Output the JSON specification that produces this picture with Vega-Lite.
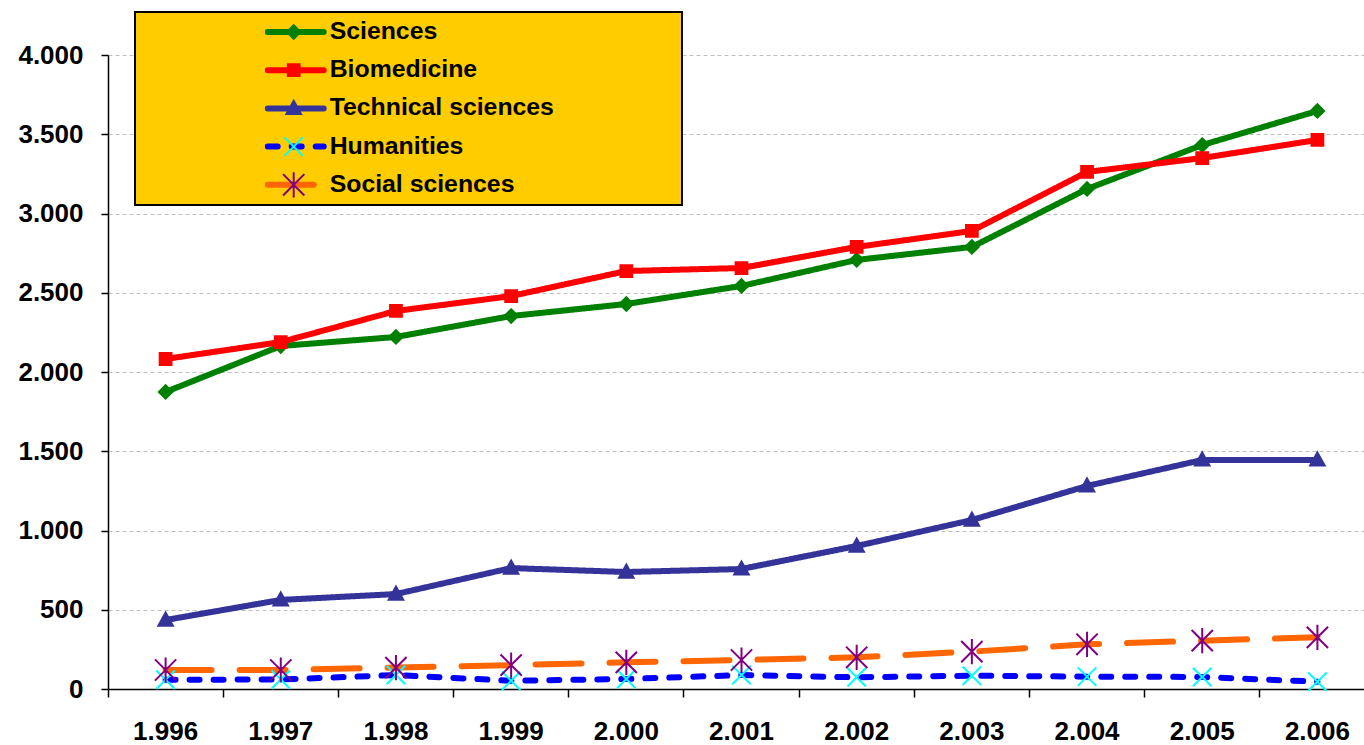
{
  "$schema": "https://vega.github.io/schema/vega-lite/v6.json",
  "width": 1256,
  "height": 634,
  "autosize": {"type": "none"},
  "padding": {"left": 108, "right": 0, "top": 55, "bottom": 56},
  "background": "white",
  "config": {"view": {"stroke": null}, "font": "Liberation Sans"},
  "data": {"values": [
    {"year": 1996, "series": "Sciences", "value": 1874},
    {"year": 1997, "series": "Sciences", "value": 2164},
    {"year": 1998, "series": "Sciences", "value": 2221},
    {"year": 1999, "series": "Sciences", "value": 2353},
    {"year": 2000, "series": "Sciences", "value": 2429},
    {"year": 2001, "series": "Sciences", "value": 2543},
    {"year": 2002, "series": "Sciences", "value": 2707},
    {"year": 2003, "series": "Sciences", "value": 2789},
    {"year": 2004, "series": "Sciences", "value": 3155},
    {"year": 2005, "series": "Sciences", "value": 3432},
    {"year": 2006, "series": "Sciences", "value": 3647},
    {"year": 1996, "series": "Biomedicine", "value": 2082},
    {"year": 1997, "series": "Biomedicine", "value": 2189},
    {"year": 1998, "series": "Biomedicine", "value": 2385},
    {"year": 1999, "series": "Biomedicine", "value": 2479},
    {"year": 2000, "series": "Biomedicine", "value": 2637},
    {"year": 2001, "series": "Biomedicine", "value": 2656},
    {"year": 2002, "series": "Biomedicine", "value": 2789},
    {"year": 2003, "series": "Biomedicine", "value": 2890},
    {"year": 2004, "series": "Biomedicine", "value": 3262},
    {"year": 2005, "series": "Biomedicine", "value": 3350},
    {"year": 2006, "series": "Biomedicine", "value": 3464},
    {"year": 1996, "series": "Technical sciences", "value": 435},
    {"year": 1997, "series": "Technical sciences", "value": 562},
    {"year": 1998, "series": "Technical sciences", "value": 599},
    {"year": 1999, "series": "Technical sciences", "value": 763},
    {"year": 2000, "series": "Technical sciences", "value": 738},
    {"year": 2001, "series": "Technical sciences", "value": 757},
    {"year": 2002, "series": "Technical sciences", "value": 902},
    {"year": 2003, "series": "Technical sciences", "value": 1066},
    {"year": 2004, "series": "Technical sciences", "value": 1281},
    {"year": 2005, "series": "Technical sciences", "value": 1445},
    {"year": 2006, "series": "Technical sciences", "value": 1445},
    {"year": 1996, "series": "Humanities", "value": 58},
    {"year": 1997, "series": "Humanities", "value": 60},
    {"year": 1998, "series": "Humanities", "value": 88},
    {"year": 1999, "series": "Humanities", "value": 52},
    {"year": 2000, "series": "Humanities", "value": 63},
    {"year": 2001, "series": "Humanities", "value": 88},
    {"year": 2002, "series": "Humanities", "value": 74},
    {"year": 2003, "series": "Humanities", "value": 84},
    {"year": 2004, "series": "Humanities", "value": 78},
    {"year": 2005, "series": "Humanities", "value": 76},
    {"year": 2006, "series": "Humanities", "value": 46},
    {"year": 1996, "series": "Social sciences", "value": 120},
    {"year": 1997, "series": "Social sciences", "value": 120},
    {"year": 1998, "series": "Social sciences", "value": 135},
    {"year": 1999, "series": "Social sciences", "value": 151},
    {"year": 2000, "series": "Social sciences", "value": 168},
    {"year": 2001, "series": "Social sciences", "value": 183},
    {"year": 2002, "series": "Social sciences", "value": 200},
    {"year": 2003, "series": "Social sciences", "value": 236},
    {"year": 2004, "series": "Social sciences", "value": 282},
    {"year": 2005, "series": "Social sciences", "value": 305},
    {"year": 2006, "series": "Social sciences", "value": 326}
  ]},
  "encoding": {
    "x": {
      "field": "year", "type": "ordinal",
      "scale": {"type": "band", "range": [0, 1267], "paddingInner": 0, "paddingOuter": 0},
      "axis": {
        "title": null, "bandPosition": 0, "labelAngle": 0,
        "labelExpr": "replace(format(datum.value, ','), ',', '.')",
        "labelFont": "Liberation Sans", "labelFontSize": 26, "labelFontWeight": "bold", "labelColor": "#000000",
        "labelPadding": 21.5, "labelOverlap": false,
        "tickSize": 8, "tickColor": "#000000", "tickWidth": 1.5,
        "domainColor": "#000000", "domainWidth": 1.5, "grid": false
      }
    },
    "y": {
      "field": "value", "type": "quantitative",
      "scale": {"domain": [0, 4000], "nice": false},
      "axis": {
        "title": null, "values": [0, 500, 1000, 1500, 2000, 2500, 3000, 3500, 4000],
        "labelExpr": "replace(format(datum.value, ','), ',', '.')",
        "labelFont": "Liberation Sans", "labelFontSize": 26, "labelFontWeight": "bold", "labelColor": "#000000",
        "labelPadding": 18,
        "tickSize": 7, "tickColor": "#000000", "tickWidth": 1.5,
        "domainColor": "#000000", "domainWidth": 1.5,
        "grid": true, "gridColor": "#BFBFBF", "gridDash": [4, 3], "gridWidth": 1
      }
    }
  },
  "layer": [
    {
      "mark": {"type": "line", "strokeWidth": 6, "strokeCap": "round", "strokeJoin": "round"},
      "encoding": {
        "color": {
          "field": "series", "type": "nominal",
          "scale": {
            "domain": ["Sciences", "Biomedicine", "Technical sciences", "Humanities", "Social sciences"],
            "range": ["#008000", "#FF0000", "#333399", "#0000FF", "#FF6600"]
          },
          "legend": {
            "orient": "none", "legendX": 27, "legendY": -43,
            "title": " ", "titleOrient": "left", "titleFontSize": 1, "titlePadding": 124.7,
            "padding": 5, "fillColor": "#FFCC00", "strokeColor": "#000000",
            "symbolType": "stroke", "symbolSize": 3136, "symbolStrokeWidth": 6,
            "labelFont": "Liberation Sans", "labelFontSize": 24.8, "labelFontWeight": "bold", "labelOpacity": 0,
            "labelOffset": 126, "labelLimit": 1000, "clipHeight": 30, "rowPadding": 8.2,
            "encode": {
              "legend": {"update": {"strokeWidth": {"value": 2}}},
              "symbols": {"update": {"strokeCap": {"value": "round"}}}
            }
          }
        },
        "strokeDash": {
          "field": "series", "type": "nominal",
          "scale": {
            "domain": ["Sciences", "Biomedicine", "Technical sciences", "Humanities", "Social sciences"],
            "range": [[1, 0], [1, 0], [1, 0], [10, 14], [46, 28]]
          },
          "legend": {
            "orient": "none", "legendX": 27, "legendY": -43,
            "title": " ", "titleOrient": "left", "titleFontSize": 1, "titlePadding": 124.7,
            "padding": 5, "fillColor": "#FFCC00", "strokeColor": "#000000",
            "symbolType": "stroke", "symbolSize": 3136, "symbolStrokeWidth": 6,
            "labelFont": "Liberation Sans", "labelFontSize": 24.8, "labelFontWeight": "bold", "labelOpacity": 0,
            "labelOffset": 126, "labelLimit": 1000, "clipHeight": 30, "rowPadding": 8.2
          }
        }
      }
    },
    {
      "mark": {"type": "point", "size": 3136, "opacity": 1, "strokeWidth": 2},
      "encoding": {
        "shape": {
          "field": "series", "type": "nominal",
          "scale": {
            "domain": ["Sciences", "Biomedicine", "Technical sciences", "Humanities", "Social sciences"],
            "range": [
              "M0,-0.24L0.24,0L0,0.24L-0.24,0Z",
              "M-0.21,-0.21L0.21,-0.21L0.21,0.21L-0.21,0.21Z",
              "M0,-0.27L0.26,0.2L-0.26,0.2Z",
              "M-0.33,-0.33L0.33,0.33M0.33,-0.33L-0.33,0.33",
              "M-0.38,-0.38L0.38,0.38M0.38,-0.38L-0.38,0.38M0,-0.45L0,0.45"
            ]
          },
          "legend": {
            "orient": "none", "legendX": 27, "legendY": -43,
            "title": " ", "titleOrient": "left", "titleFontSize": 1, "titlePadding": 124.7,
            "padding": 5, "symbolSize": 3136, "symbolStrokeWidth": 2, "symbolOpacity": 1,
            "labelFont": "Liberation Sans", "labelFontSize": 24.8, "labelFontWeight": "bold", "labelColor": "#000000",
            "labelOffset": 7, "labelLimit": 1000, "clipHeight": 30, "rowPadding": 8.2
          }
        },
        "fill": {
          "field": "series", "type": "nominal",
          "scale": {
            "domain": ["Sciences", "Biomedicine", "Technical sciences", "Humanities", "Social sciences"],
            "range": ["#008000", "#FF0000", "#333399", "transparent", "transparent"]
          },
          "legend": {
            "orient": "none", "legendX": 27, "legendY": -43,
            "title": " ", "titleOrient": "left", "titleFontSize": 1, "titlePadding": 124.7,
            "padding": 5, "symbolSize": 3136, "symbolStrokeWidth": 2, "symbolOpacity": 1,
            "labelFont": "Liberation Sans", "labelFontSize": 24.8, "labelFontWeight": "bold", "labelColor": "#000000",
            "labelOffset": 7, "labelLimit": 1000, "clipHeight": 30, "rowPadding": 8.2
          }
        },
        "stroke": {
          "field": "series", "type": "nominal",
          "scale": {
            "domain": ["Sciences", "Biomedicine", "Technical sciences", "Humanities", "Social sciences"],
            "range": ["#008000", "#FF0000", "#333399", "#00FFFF", "#800080"]
          },
          "legend": {
            "orient": "none", "legendX": 27, "legendY": -43,
            "title": " ", "titleOrient": "left", "titleFontSize": 1, "titlePadding": 124.7,
            "padding": 5, "symbolSize": 3136, "symbolStrokeWidth": 2, "symbolOpacity": 1,
            "labelFont": "Liberation Sans", "labelFontSize": 24.8, "labelFontWeight": "bold", "labelColor": "#000000",
            "labelOffset": 7, "labelLimit": 1000, "clipHeight": 30, "rowPadding": 8.2
          }
        }
      }
    }
  ],
  "resolve": {"legend": {"shape": "independent", "fill": "independent", "stroke": "independent"}}
}
